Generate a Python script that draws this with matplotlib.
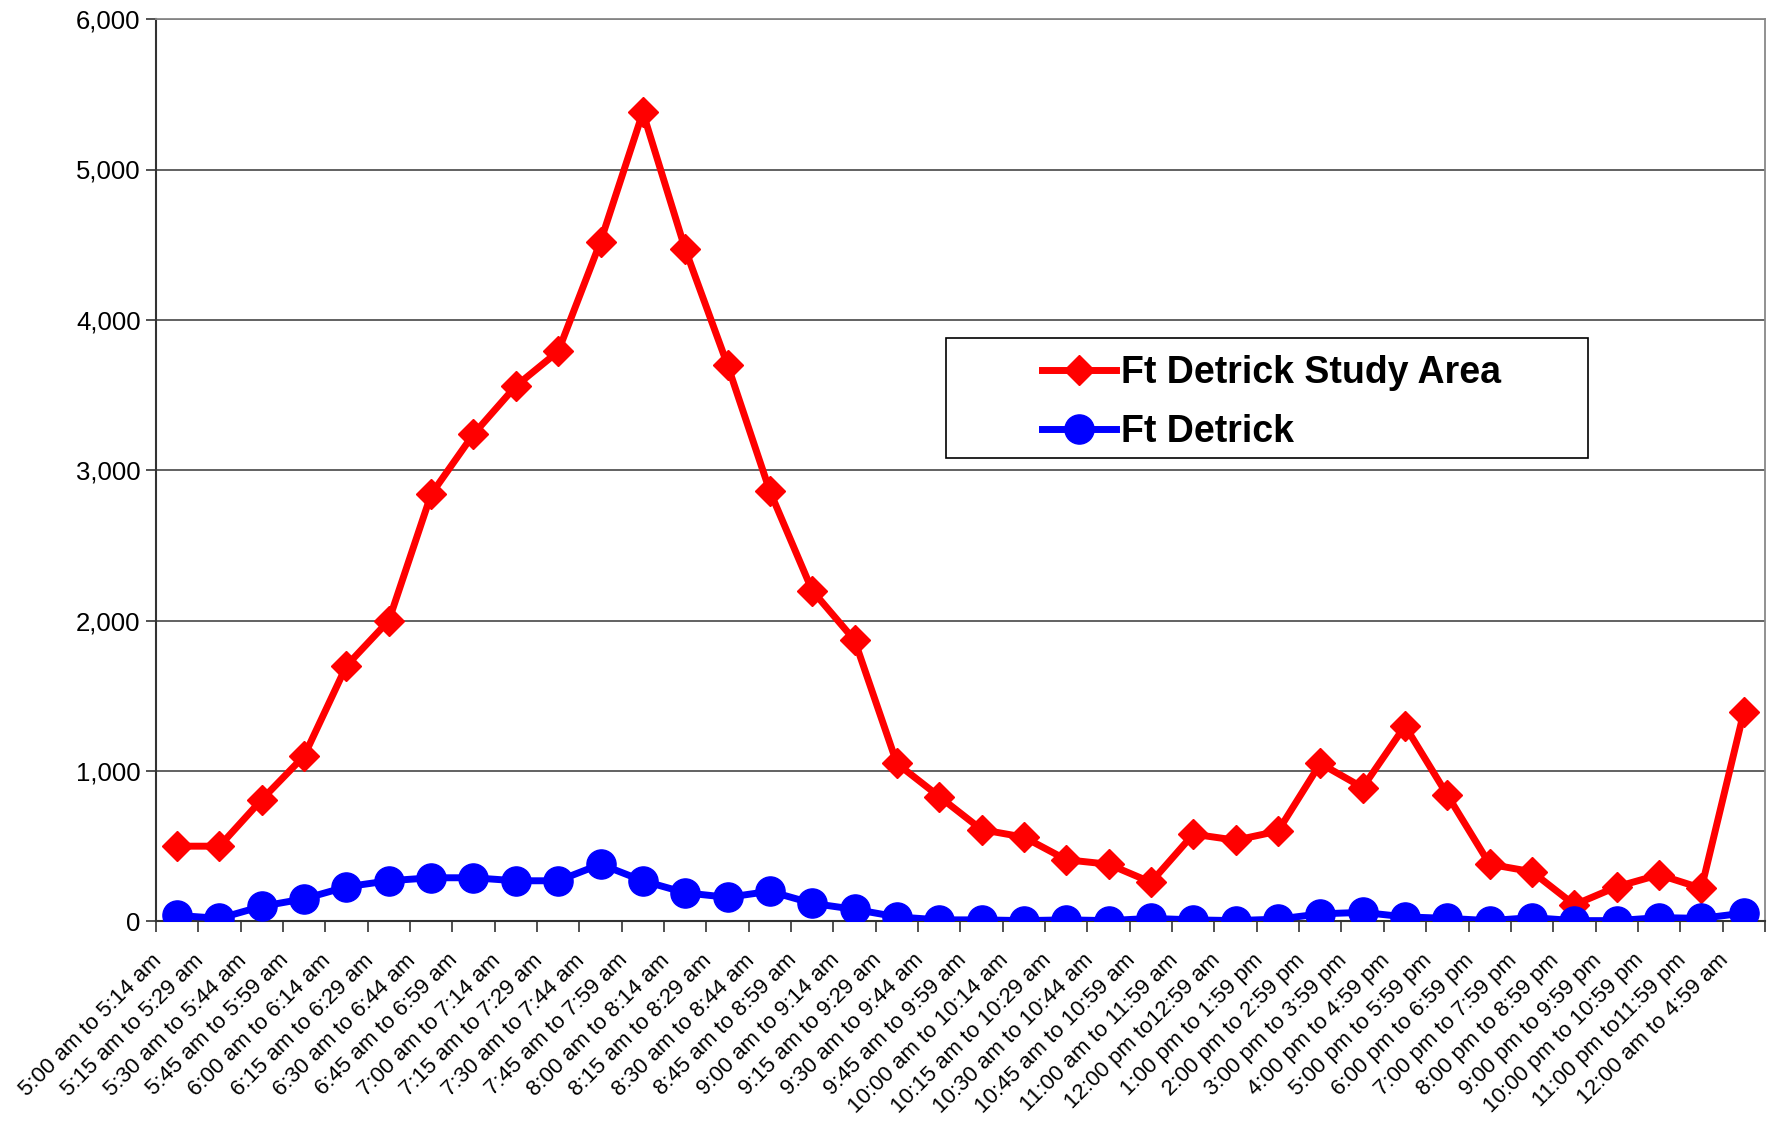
import matplotlib
matplotlib.use("Agg")
import matplotlib.pyplot as plt
import matplotlib.transforms as mtransforms
from matplotlib.patches import Rectangle
import numpy as np

plt.rcParams["font.family"] = ["Liberation Sans", "DejaVu Sans"]

periods = [
    "5:00 am to 5:14 am", "5:15 am to 5:29 am", "5:30 am to 5:44 am", "5:45 am to 5:59 am",
    "6:00 am to 6:14 am", "6:15 am to 6:29 am", "6:30 am to 6:44 am", "6:45 am to 6:59 am",
    "7:00 am to 7:14 am", "7:15 am to 7:29 am", "7:30 am to 7:44 am", "7:45 am to 7:59 am",
    "8:00 am to 8:14 am", "8:15 am to 8:29 am", "8:30 am to 8:44 am", "8:45 am to 8:59 am",
    "9:00 am to 9:14 am", "9:15 am to 9:29 am", "9:30 am to 9:44 am", "9:45 am to 9:59 am",
    "10:00 am to 10:14 am", "10:15 am to 10:29 am", "10:30 am to 10:44 am", "10:45 am to 10:59 am",
    "11:00 am to 11:59 am", "12:00 pm to12:59 am", "1:00 pm to 1:59 pm", "2:00 pm to 2:59 pm",
    "3:00 pm to 3:59 pm", "4:00 pm to 4:59 pm", "5:00 pm to 5:59 pm", "6:00 pm to 6:59 pm",
    "7:00 pm to 7:59 pm", "8:00 pm to 8:59 pm", "9:00 pm to 9:59 pm", "10:00 pm to 10:59 pm",
    "11:00 pm to11:59 pm", "12:00 am to 4:59 am",
]
study_area = [500, 500, 810, 1100, 1700, 2000, 2840, 3240, 3560, 3790, 4520, 5380,
              4470, 3700, 2860, 2200, 1870, 1050, 830, 610, 560, 410, 380, 260,
              580, 540, 600, 1050, 890, 1300, 840, 380, 330, 110, 230, 310, 220, 1390]
detrick = [40, 20, 100, 150, 230, 270, 290, 290, 270, 270, 380, 270,
           190, 160, 200, 120, 80, 30, 10, 10, 5, 10, 5, 20,
           10, 5, 15, 50, 60, 30, 20, 5, 25, 5, 5, 25, 20, 55]

x = np.arange(len(periods))

fig = plt.figure(figsize=(17.72, 11.25), dpi=100)
ax = fig.add_axes([0.088, 0.181, 0.908, 0.802])

ax.plot(x, study_area, color="#FF0000", lw=5, marker="D", ms=15, label="Ft Detrick Study Area", zorder=3)
ax.plot(x, detrick, color="#0000FF", lw=5, marker="o", ms=21, label="Ft Detrick", zorder=3)

ax.set_xlim(-0.5, len(periods) - 0.5)
ax.set_ylim(0, 6000)
ax.set_yticks(np.arange(0, 6001, 1000))
ax.set_yticklabels([f"{v:,}" for v in range(0, 6001, 1000)], fontsize=18.5)
ax.yaxis.grid(True, color="#555555", lw=1.3)
ax.set_axisbelow(True)

ax.set_xticks(x)
ax.set_xticklabels(periods, rotation=45, ha="right", va="top", rotation_mode="anchor", fontsize=16)
ax.tick_params(axis="x", length=0, pad=14)
shift = mtransforms.ScaledTranslation(-0.26, -0.09, fig.dpi_scale_trans)
for lab in ax.get_xticklabels():
    lab.set_transform(lab.get_transform() + shift)
ax.set_xticks(np.arange(-0.5, len(periods), 1), minor=True)
ax.tick_params(axis="x", which="minor", length=8, width=1.2, direction="out", color="#333333")
ax.tick_params(axis="y", length=7, width=1.2, direction="out", color="#333333", pad=4)

for s in ("left", "bottom"):
    ax.spines[s].set_color("#333333")
    ax.spines[s].set_linewidth(1.5)
for s in ("top", "right"):
    ax.spines[s].set_color("#888888")
    ax.spines[s].set_linewidth(1.3)

# legend box drawn separately to get the wide padding of the original
ax.add_patch(Rectangle((0.491, 0.514), 0.399, 0.133, transform=ax.transAxes,
                       facecolor="white", edgecolor="black", lw=1.2, zorder=4))
leg = ax.legend(loc="upper left", bbox_to_anchor=(0.551, 0.628), frameon=False,
                prop={"weight": "bold", "size": 27}, borderpad=0, handlelength=1.95,
                handletextpad=0.15, labelspacing=0.62, borderaxespad=0)
leg.set_zorder(5)

fig.savefig("out.png", dpi=100)
